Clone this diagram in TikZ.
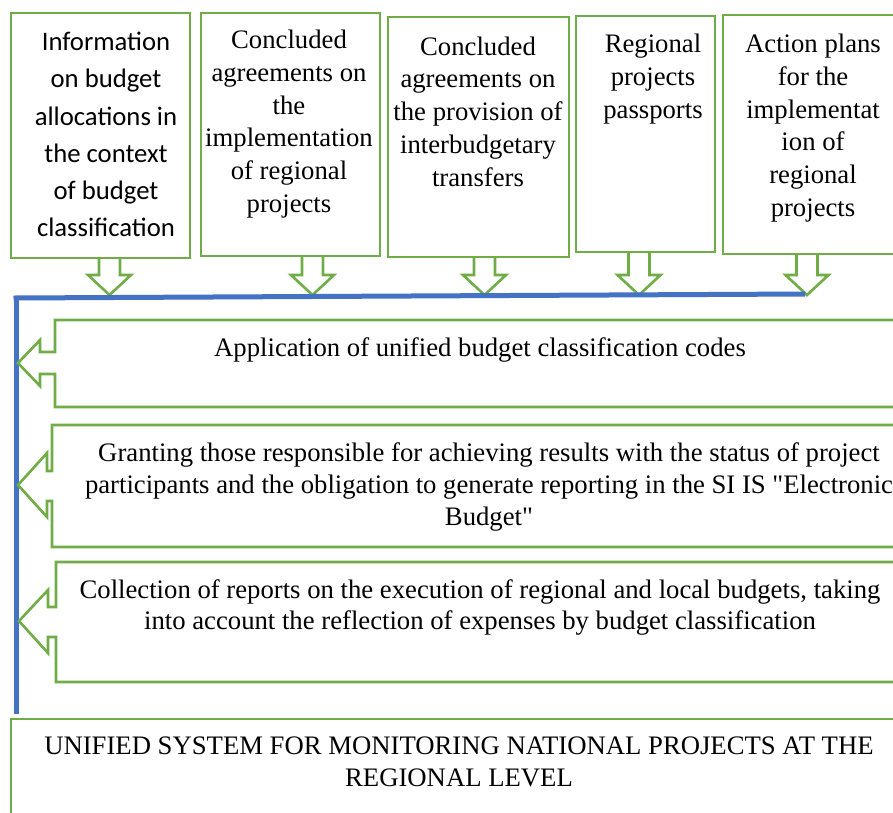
\documentclass[tikz,border=0pt]{standalone}
\usepackage{fontspec}
\setmainfont{Liberation Serif}
\newfontfamily\calfont{Carlito}
\definecolor{grn}{RGB}{112,173,71}
\definecolor{blu}{RGB}{68,114,196}
\newcommand\downblock[2]{% #1 = centre x, #2 = top y
  \draw[gline,line join=miter] (#1-10.5,#2) -- (#1-10.5,275) -- (#1-21.5,275) -- (#1,295)
    -- (#1+21.5,275) -- (#1+10.5,275) -- (#1+10.5,#2);}
\begin{document}
\begin{tikzpicture}[x=1pt,y=-1pt,
  gline/.style={draw=grn,line width=2.6pt},
  gbox/.style={gline,rectangle,inner sep=0pt},
  txt/.style={align=center,inner sep=0pt,font=\fontsize{26.7}{32.8}\selectfont},
  blueline/.style={draw=blu,line width=5pt}]
\useasboundingbox (0,0) rectangle (893,812);
\clip (0,0) rectangle (893,812);
\fill[white] (0,0) rectangle (893,812);

% top boxes
\node[gbox,minimum width=179,minimum height=245] (b1) at (100.5,135.5) {};
\node[gbox,minimum width=179,minimum height=243] (b2) at (290.5,134.5) {};
\node[gbox,minimum width=181,minimum height=240] (b3) at (478.5,137) {};
\node[gbox,minimum width=139,minimum height=236] (b4) at (645.5,134) {};
\node[gbox,minimum width=182,minimum height=239] (b5) at (814,134.5) {};

\node[txt,font=\calfont\fontsize{26.7}{37.2}\selectfont] (t1) at (106,134.5)
  {Information\\on budget\\allocations in\\the context\\of budget\\classification};
\node[txt] (t2) at (289,124) {Concluded\\agreements on\\the\\implementation\\of regional\\projects};
\node[txt] (t3) at (478,111.5) {Concluded\\agreements on\\the provision of\\interbudgetary\\transfers};
\node[txt] (t4) at (653,79) {Regional\\projects\\passports};
\node[txt] (t5) at (813,128) {Action plans\\for the\\implementat\\ion of\\regional\\projects};

% down block arrows
\downblock{109.5}{258}
\downblock{312.5}{256}
\downblock{484.5}{257}
\downblock{639}{253}
\downblock{807}{254}

% blue collector line
\coordinate (bR) at (805,294);
\coordinate (bL) at (13.5,298);
\coordinate (bC) at (16,296);
\coordinate (bD) at (16,714);
\draw[blueline] (bR) -- (bL);
\draw[blueline] (bC) -- (bD);

% left-pointing block boxes
\draw[gline,line join=miter] (910,320) -- (55,320) -- (55,352) -- (40,352) -- (40,340) -- (18,363)
  -- (40,386) -- (40,374) -- (55,374) -- (55,407) -- (910,407);
\draw[gline,line join=miter] (910,425) -- (52,425) -- (52,471) -- (47,471) -- (47,453) -- (18,485)
  -- (47,517) -- (47,501) -- (52,501) -- (52,547) -- (910,547);
\draw[gline,line join=miter] (910,562) -- (56,562) -- (56,607) -- (48,607) -- (48,590) -- (19,621)
  -- (48,653) -- (48,637) -- (56,637) -- (56,682) -- (910,682);

\node[txt] (tA) at (480,350) {Application of unified budget classification codes};
\node[txt,font=\fontsize{26.7}{32}\selectfont] (tB) at (489,487)
  {Granting those responsible for achieving results with the status of project\\participants and the obligation to generate reporting in the SI IS \textquotedbl Electronic\\Budget\textquotedbl};
\node[txt,font=\fontsize{26.7}{31}\selectfont] (tC) at (480,607.5)
  {Collection of reports on the execution of regional and local budgets, taking\\into account the reflection of expenses by budget classification};

% bottom box
\node[gbox,minimum width=894,minimum height=112] (bot) at (458,775) {};
\node[txt,font=\fontsize{26.7}{32}\selectfont] (tBot) at (459,762)
  {UNIFIED SYSTEM FOR MONITORING NATIONAL PROJECTS AT THE\\REGIONAL LEVEL};
\end{tikzpicture}
\end{document}
